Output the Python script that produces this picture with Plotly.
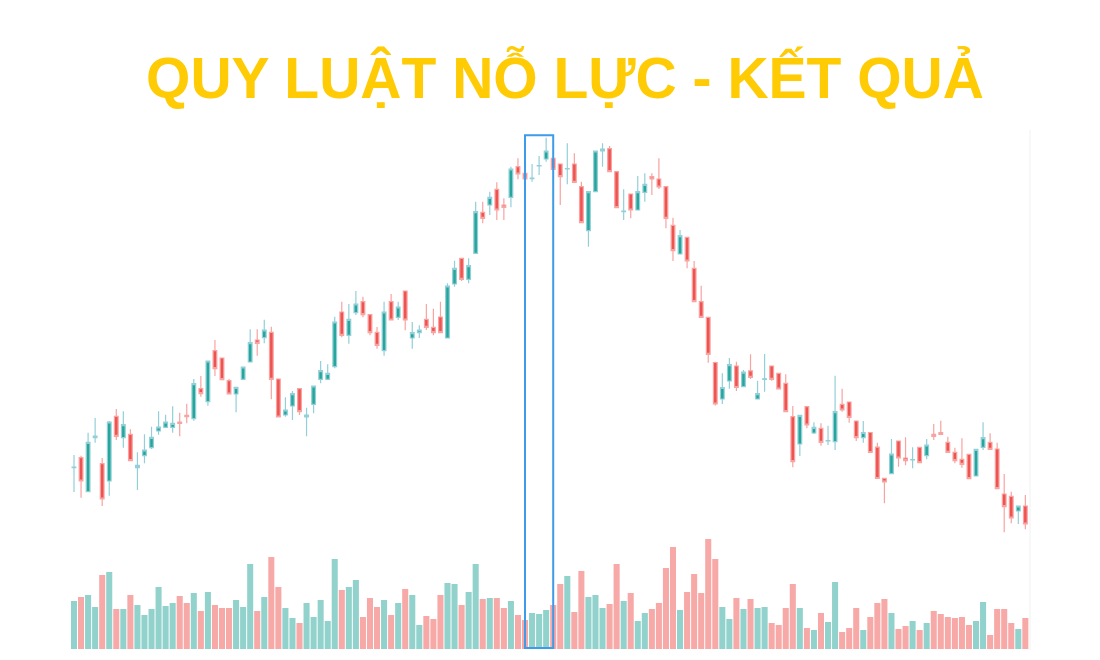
import plotly.graph_objects as go

# candle values (price units), one entry per session
opens = [92.3, 102.3, 68.3, 122.3, 96.3, 79, 143.7, 122.3, 125.7, 92.3,
         104.3, 112.3, 129, 132.7, 132.7, 138, 144.7, 141.3, 171.3, 158.3,
         209.3, 202, 179.3, 166, 180.7, 198, 220, 222.3, 227.7, 181,
         145, 154, 171.3, 143, 155.7, 180.7, 180.7, 193.3, 248, 224.7,
         247.3, 258.3, 245.3, 227.7, 209.3, 258.3, 242.7, 269, 222, 227.3,
         240.7, 232.7, 243, 222, 276, 301.7, 280.7, 306.7, 347.7, 355,
         370.7, 355, 362.7, 393.3, 386.7, 381.3, 394, 401, 401.7, 396,
         391, 396, 373.3, 329.3, 368.3, 409, 411.3, 388.3, 348.3, 366,
         350, 367.7, 383.3, 381, 373.3, 334.7, 306, 322.7, 291.7, 258.3,
         242.7, 197.5, 161, 179, 194, 173.3, 189.2, 161, 180.7, 194,
         186.7, 176.7, 143.3, 116, 153.3, 127, 131.7, 119, 118.3, 155.7,
         158, 139, 122.3, 127.5, 112.8, 81.7, 86.3, 119, 102, 100,
         112.7, 104.3, 125.7, 127.3, 117.7, 107.7, 100.7, 105.7, 84, 112.7,
         117.7, 111, 66, 63.7, 49, 54]
highs = [105, 104.3, 127.3, 142, 102, 139, 151, 148.7, 130.7, 107.7,
         125.7, 133.3, 148.7, 145.3, 153.7, 147.3, 156.3, 181, 184, 199.5,
         220, 202, 181, 173, 193.5, 230.7, 230.7, 240.3, 233.3, 181,
         162.7, 169, 171.5, 152.3, 174.5, 199, 195.7, 243.3, 258.3, 256,
         269, 263.3, 245.5, 233, 258.3, 266, 258.3, 269.5, 238, 234.7,
         256, 251.3, 258.3, 276.7, 299.3, 302, 301.7, 358.3, 358.3, 368.3,
         377.7, 361.7, 393.3, 401.7, 387, 396, 404, 422.3, 402, 396.3,
         416.7, 406.7, 378.3, 368.5, 409.3, 416.7, 414, 388.5, 370.7, 366.3,
         384, 386.7, 386.7, 401.7, 373.5, 342.3, 330, 323, 299, 274.3,
         243, 198.3, 186.7, 202, 198.3, 190, 205.8, 179.3, 206, 194.3,
         187, 185.7, 154, 145, 153.5, 137.7, 136.7, 134.3, 184.3, 171.3,
         158.3, 139.3, 139, 127.8, 117.3, 82, 121, 119.3, 122.7, 112.7,
         113, 121, 136, 139.3, 123.3, 112.3, 121.7, 106, 111, 137.7,
         126.7, 117.3, 86, 68.3, 54.3, 65]
lows = [68, 62.3, 68, 117.3, 54, 64.3, 120, 112.3, 99, 70,
        96.7, 111, 125.3, 132.3, 127.3, 123.7, 136.7, 139.3, 163.3, 154.3,
        184, 180, 165.7, 147.7, 180.5, 197.7, 204.3, 216.7, 160.7, 142.7,
        143.3, 140, 145, 123.7, 146.7, 176.7, 180, 191.7, 222.7, 216.3,
        245, 242.7, 224.7, 211.3, 204.3, 239.7, 240, 229.7, 211.3, 222,
        230, 224.7, 227, 221.7, 273.3, 279, 276.7, 306.5, 336.7, 345,
        340, 340, 352.7, 380.7, 380.7, 378.3, 385, 398.3, 390.5, 355,
        375.7, 377.5, 337, 313.3, 368, 393.3, 388, 352, 340, 341.7,
        349.7, 358.3, 365, 371, 331.7, 299, 305.7, 291.7, 258, 242.5,
        197.3, 154.5, 156, 171.3, 169, 173, 181, 160.7, 168.3, 179.3,
        170.7, 148, 92.7, 104, 131.7, 126, 114.3, 115, 110, 148.3,
        137.3, 119, 117.3, 107.3, 81.3, 56.7, 86, 93.3, 94.7, 91.7,
        97, 100.7, 120, 125.5, 107.5, 96.7, 92.3, 81, 83.7, 110,
        110.5, 71, 27.7, 36.7, 36, 30.7]
closes = [92.8, 79, 117.7, 124, 61, 138, 123.7, 135.3, 99.3, 94.7,
          110, 122.7, 133, 138, 136.7, 136.7, 143.3, 176.3, 166.3, 199,
          191.3, 180.3, 166, 172.7, 193, 217.3, 216.7, 230, 180.7, 143,
          150, 166.3, 148.3, 145, 174, 189.3, 186.7, 238, 224.7, 240.7,
          256, 245.3, 227.3, 214.7, 248, 240, 253, 240, 227.3, 230,
          232.7, 227.3, 227.3, 274, 291.7, 280.7, 294.3, 348.3, 341.7, 362.7,
          350, 352.7, 391, 386, 381, 381.8, 394.5, 409, 390.7, 383.3,
          391.5, 377.7, 337.3, 368.3, 409, 411, 388.3, 352.3, 348.8, 350,
          368.3, 375.7, 381, 373, 341.7, 309.3, 324.3, 299, 258.3, 242.7,
          205.7, 156, 172.5, 195.3, 172.5, 187.8, 182.7, 166.3, 181.2, 180.7,
          171, 148.3, 98.3, 144.7, 135, 132.7, 117.7, 119.5, 148.3, 150,
          142.7, 122.3, 127.5, 107.5, 81.5, 78, 106, 102, 99.3, 100.5,
          97.3, 115, 123.7, 125.7, 107.7, 99.3, 95.7, 81.3, 110.7, 122.3,
          110.7, 71.3, 53.3, 42, 54, 36]
volumes = [48, 52, 54, 42, 74, 77, 40, 40, 54, 44,
           34, 40, 62, 43, 46, 53, 46, 56, 38, 57,
           44, 41, 41, 49, 42, 85, 38, 52, 92, 62,
           41, 31, 26, 46, 32, 49, 28, 90, 59, 62,
           69, 32, 51, 42, 49, 34, 46, 60, 54, 24,
           33, 30, 54, 66, 65, 44, 57, 85, 50, 51,
           51, 41, 48, 34, 29, 36, 35, 39, 44, 65,
           73, 37, 78, 52, 54, 41, 45, 85, 48, 56,
           28, 36, 40, 46, 81, 102, 39, 57, 75, 56,
           110, 90, 42, 30, 51, 40, 50, 41, 42, 26,
           24, 41, 65, 41, 21, 19, 36, 27, 67, 17,
           21, 41, 19, 32, 46, 50, 36, 20, 23, 28,
           19, 26, 38, 35, 32, 31, 32, 24, 28, 47,
           14, 40, 40, 26, 20, 31]

TITLE = 'QUY LUẬT NỖ LỰC - KẾT QUẢ'
HIGHLIGHT = (64, 68)  # sessions boxed in blue

UP, DOWN = '#26a69a', '#ef5350'
UP_WICK, DOWN_WICK = '#93cfd8', '#f7a3a1'
UP_VOL, DOWN_VOL = '#92d2cc', '#f7a9a7'

days = list(range(len(opens)))
vol_colors = [UP_VOL if c >= o else DOWN_VOL for o, c in zip(opens, closes)]

volume_trace = go.Bar(
    x=days, y=volumes, yaxis='y2',
    marker=dict(color=vol_colors, line=dict(width=0)),
    width=0.86, hoverinfo='skip',
)

candles = go.Candlestick(
    x=days, open=opens, high=highs, low=lows, close=closes,
    increasing=dict(fillcolor=UP, line=dict(color=UP_WICK, width=1.2)),
    decreasing=dict(fillcolor=DOWN, line=dict(color=DOWN_WICK, width=1.2)),
    whiskerwidth=0,
)

fig = go.Figure(data=[volume_trace, candles])

# the page body adds an 8px offset, so the figure is laid out 8px up/left
fig.update_layout(
    width=1100, height=660,
    margin=dict(l=62, r=78, t=122, b=18),
    paper_bgcolor='white', plot_bgcolor='white',
    showlegend=False,
    boxgap=0.25,
    title=dict(
        text=f'<b>{TITLE}</b>',
        x=557 / 1100, xanchor='center',
        y=1 - 70 / 660, yanchor='middle',
        font=dict(family='Liberation Sans, Arial, sans-serif', size=57, color='#fecb05'),
    ),
    xaxis=dict(range=[-0.568, 135.66], visible=False, rangeslider=dict(visible=False)),
    yaxis=dict(range=[-90, 430], visible=False),
    yaxis2=dict(range=[-1, 519], overlaying='y', visible=False),
    shapes=[
        dict(type='line', xref='paper', yref='paper', x0=1, x1=1, y0=0, y1=1,
             line=dict(color='#f1f1f1', width=1)),
        dict(type='rect', xref='x', yref='paper',
             x0=HIGHLIGHT[0], x1=HIGHLIGHT[1], y0=0.004, y1=0.99,
             line=dict(color='#3d9be9', width=2), layer='above'),
    ],
)

fig.write_html("out.html")
